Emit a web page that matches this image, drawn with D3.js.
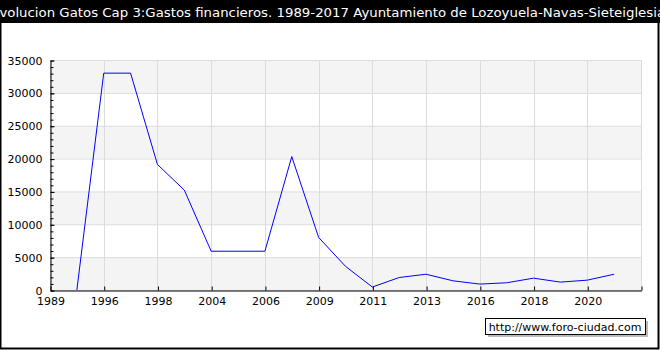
<!DOCTYPE html>
<html>
<head>
<meta charset="utf-8">
<script src="https://cdn.jsdelivr.net/npm/d3@7"></script>
<style>
body{margin:0;background:#fff;}
text{font-family:"DejaVu Sans",Verdana,sans-serif;}
</style>
</head>
<body>
<div id="chart"></div>
<script>
// categories (one slot per point, last slot is the empty end tick)
var years = ["1989","1995","1996","1997","1998","2003","2004","2005","2006","2008","2009",
             "2010","2011","2012","2013","2015","2016","2017","2018","2019","2020","2021",""];
var labeledYears = ["1989","1996","1998","2004","2006","2009","2011","2013","2016","2018","2020",""];
var gastos = [null,0,33000,33000,19100,15200,5900,5900,5900,20300,8000,
              3600,450,1900,2400,1400,900,1100,1800,1200,1500,2400];
var yTicks = [0,5000,10000,15000,20000,25000,30000,35000];
var title = "Evolucion Gatos Cap 3:Gastos financieros. 1989-2017 Ayuntamiento de Lozoyuela-Navas-Sieteiglesias";

var W = 660, H = 350;
var svg = d3.select("#chart").append("svg").attr("width",W).attr("height",H);

// frame + title bar
svg.append("rect").attr("x",0.5).attr("y",0.5).attr("width",W-2).attr("height",H-2)
   .attr("fill","#fff").attr("stroke","#000").attr("stroke-width",2);
svg.append("rect").attr("x",0).attr("y",0).attr("width",W).attr("height",23).attr("fill","#000");
// title is wider than the chart in the original, cut on both sides
svg.append("text").attr("x",-9).attr("y",17)
   .attr("textLength",681).attr("lengthAdjust","spacingAndGlyphs")
   .attr("fill","#fff").style("font-size","13px").text(title);

var x = d3.scalePoint().domain(years).range([50,641]);
var y = d3.scaleLinear().domain([0,35000]).range([290,60]);

var plot = svg.append("g");

// alternating bands
plot.selectAll(".band").data(d3.range(0,35000,5000)).enter().append("rect")
  .attr("x",50).attr("width",591)
  .attr("y",d => y(d+5000)).attr("height",d => y(d)-y(d+5000))
  .attr("fill",(d,i) => i%2==0 ? "#f4f4f4" : "#fff");

// grid
plot.selectAll(".hg").data(yTicks).enter().append("line")
  .attr("x1",50).attr("x2",641).attr("y1",d => y(d)+0.5).attr("y2",d => y(d)+0.5)
  .attr("stroke","#dcdcdc");
plot.selectAll(".vg").data(labeledYears.map((d,i) => years[i*2])).enter().append("line")
  .attr("x1",d => Math.round(x(d))+0.5).attr("x2",d => Math.round(x(d))+0.5)
  .attr("y1",60).attr("y2",290).attr("stroke","#dcdcdc");

// line
var line = d3.line()
  .defined(d => d != null)
  .x((d,i) => x(years[i]))
  .y(d => y(d));
plot.append("path").datum(gastos).attr("d",line)
  .attr("fill","none").attr("stroke","#0000ff").attr("stroke-width",1);

// y axis
svg.append("g").attr("transform","translate(50.5,0.5)")
  .call(d3.axisLeft(y).tickValues(yTicks).tickSizeInner(-4).tickSizeOuter(0).tickPadding(8)
        .tickFormat(d3.format("d")));
svg.append("g").attr("transform","translate(50.5,0.5)")
  .call(d3.axisLeft(y).tickValues(d3.range(0,35001,1000)).tickSizeInner(-3).tickSizeOuter(0).tickFormat(""))
  .select(".domain").remove();

// x axis
svg.append("g").attr("transform","translate(0.5,290.5)")
  .call(d3.axisBottom(x).tickValues(labeledYears.map((d,i) => years[i*2]))
        .tickSizeInner(-4).tickSizeOuter(0).tickPadding(7)
        .tickFormat(d => labeledYears.indexOf(d) >= 0 ? d : ""));

svg.selectAll(".tick text").style("font-size","11px").attr("fill","#000")
   .style("font-family","'DejaVu Sans',Verdana,sans-serif");
svg.selectAll(".domain, .tick line").attr("stroke","#000");

// watermark
svg.append("rect").attr("x",488).attr("y",321).attr("width",160).attr("height",16).attr("fill","#bbb");
svg.append("rect").attr("x",485.5).attr("y",318.5).attr("width",160).attr("height",16)
   .attr("fill","#fff").attr("stroke","#000");
svg.append("text").attr("x",565).attr("y",331).attr("text-anchor","middle")
   .style("font-size","11px").text("http://www.foro-ciudad.com");
</script>
</body>
</html>
